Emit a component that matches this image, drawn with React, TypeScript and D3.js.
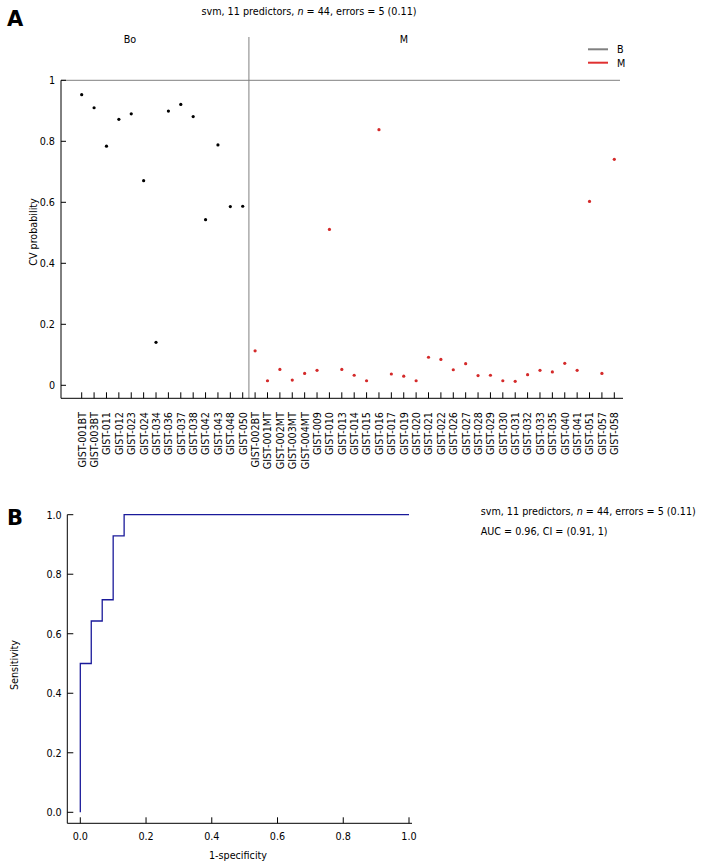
import React from "react";
import * as d3 from "d3";

const groupB = ["GIST-001BT","GIST-003BT","GIST-011","GIST-012","GIST-023","GIST-024","GIST-034","GIST-036","GIST-037","GIST-038","GIST-042","GIST-043","GIST-048","GIST-050"];
const valuesB = [0.953,0.910,0.784,0.872,0.890,0.671,0.141,0.899,0.921,0.881,0.543,0.788,0.586,0.587];
const groupM = ["GIST-002BT","GIST-001MT","GIST-002MT","GIST-003MT","GIST-004MT","GIST-009","GIST-010","GIST-013","GIST-014","GIST-015","GIST-016","GIST-017","GIST-019","GIST-020","GIST-021","GIST-022","GIST-026","GIST-027","GIST-028","GIST-029","GIST-030","GIST-031","GIST-032","GIST-033","GIST-035","GIST-040","GIST-041","GIST-051","GIST-057","GIST-058"];
const valuesM = [0.113,0.015,0.052,0.017,0.039,0.049,0.511,0.052,0.033,0.015,0.838,0.037,0.030,0.015,0.092,0.085,0.051,0.071,0.032,0.033,0.015,0.013,0.035,0.049,0.044,0.072,0.049,0.603,0.039,0.741];
const yTicksA = [0, 0.2, 0.4, 0.6, 0.8, 1];
const yTickLabelsA = ["0", "0.2", "0.4", "0.6", "0.8", "1"];

const rocFpr = [0, 0, 1/30, 1/30, 2/30, 2/30, 3/30, 3/30, 4/30, 4/30, 1];
const rocTpr = [0, 7/14, 7/14, 9/14, 9/14, 10/14, 10/14, 13/14, 13/14, 1, 1];
const ticksB = [0, 0.2, 0.4, 0.6, 0.8, 1.0];

const titleText = "svm, 11 predictors, ";
const FONT = "'DejaVu Sans Condensed', 'DejaVu Sans', sans-serif";
const FS = 10.7;

export default function App() {
  const cats = [...groupB, ...groupM];
  const vals = [...valuesB, ...valuesM];
  const nB = groupB.length;

  // Panel A scales
  const xA = d3.scaleLinear().domain([0, cats.length - 1]).range([81.7, 614.3]);
  const yA = d3.scaleLinear().domain([0, 1]).range([385.3, 80.3]);
  const axisLeftA = 61;
  const axisBottomA = 398.3;
  const axisRightA = 623;
  const sepX = (xA(nB - 1) + xA(nB)) / 2;

  // Panel B scales
  const xB = d3.scaleLinear().domain([0, 1]).range([80.3, 409]);
  const yB = d3.scaleLinear().domain([0, 1]).range([812.3, 514.7]);
  const axisLeftB = 67.3;
  const axisBottomB = 823.3;
  const rocPts: [number, number][] = rocFpr.map((f, i) => [f, rocTpr[i]]);
  const rocLine = d3.line<[number, number]>().x(d => xB(d[0])).y(d => yB(d[1]));

  return (
    <svg width={702} height={867} style={{ position: "absolute", left: 0, top: 0, background: "#fff" }}
      fontFamily={FONT} fontSize={FS}>
      <rect x={0} y={0} width={702} height={867} fill="#fff" />
      {/* Panel A */}
      <text x={7} y={26} fontSize={21} fontWeight="bold" fontFamily="'DejaVu Sans', Arial, sans-serif">A</text>
      <text x={309} y={15} textAnchor="middle">
        {titleText}<tspan fontStyle="italic">n</tspan>{" = 44, errors = 5 (0.11)"}
      </text>
      <text x={130} y={43} textAnchor="middle">Bo</text>
      <text x={404} y={43} textAnchor="middle">M</text>
      {/* legend */}
      <line x1={588} x2={608} y1={49.3} y2={49.3} stroke="#808080" strokeWidth={2} />
      <text x={617} y={53}>B</text>
      <line x1={588} x2={608} y1={62.7} y2={62.7} stroke="#e03030" strokeWidth={2} />
      <text x={617} y={67}>M</text>
      {/* separator & ref line */}
      <line x1={sepX} x2={sepX} y1={37} y2={axisBottomA} stroke="#808080" strokeWidth={1} />
      <line x1={axisLeftA} x2={620} y1={yA(1)} y2={yA(1)} stroke="#808080" strokeWidth={1} />
      {/* axes */}
      <line x1={axisLeftA} x2={axisLeftA} y1={yA(1)} y2={axisBottomA} stroke="#000" />
      <line x1={axisLeftA} x2={axisRightA} y1={axisBottomA} y2={axisBottomA} stroke="#000" />
      {yTicksA.map((t, i) => (
        <g key={"ya" + i}>
          <line x1={axisLeftA} x2={axisLeftA + 5} y1={yA(t)} y2={yA(t)} stroke="#000" />
          <text x={55} y={yA(t) + 3.8} textAnchor="end">{yTickLabelsA[i]}</text>
        </g>
      ))}
      <text transform={`translate(37,232) rotate(-90)`} textAnchor="middle">CV probability</text>
      {cats.map((c, i) => (
        <g key={"xa" + i}>
          <line x1={xA(i)} x2={xA(i)} y1={axisBottomA} y2={axisBottomA - 6} stroke="#000" />
          <text transform={`translate(${xA(i) + 3.9},412) rotate(-90)`} textAnchor="end">{c}</text>
        </g>
      ))}
      {vals.map((v, i) => (
        <circle key={"pt" + i} cx={xA(i)} cy={yA(v)} r={1.6} fill={i < nB ? "#000" : "#d42a2a"} />
      ))}

      {/* Panel B */}
      <text x={7} y={525} fontSize={21} fontWeight="bold" fontFamily="'DejaVu Sans', Arial, sans-serif">B</text>
      <line x1={axisLeftB} x2={axisLeftB} y1={yB(1)} y2={axisBottomB} stroke="#000" />
      <line x1={axisLeftB} x2={412} y1={axisBottomB} y2={axisBottomB} stroke="#000" />
      {ticksB.map((t, i) => (
        <g key={"yb" + i}>
          <line x1={axisLeftB} x2={axisLeftB + 6} y1={yB(t)} y2={yB(t)} stroke="#000" />
          <text x={61.7} y={yB(t) + 3.8} textAnchor="end">{t.toFixed(1)}</text>
        </g>
      ))}
      {ticksB.map((t, i) => (
        <g key={"xb" + i}>
          <line x1={xB(t)} x2={xB(t)} y1={axisBottomB} y2={axisBottomB - 6} stroke="#000" />
          <text x={xB(t)} y={840} textAnchor="middle">{t.toFixed(1)}</text>
        </g>
      ))}
      <text x={238} y={859} textAnchor="middle">1-specificity</text>
      <text transform={`translate(18,665) rotate(-90)`} textAnchor="middle">Sensitivity</text>
      <path d={rocLine(rocPts) || ""} fill="none" stroke="#1a1a9a" strokeWidth={1.3} />
      <text x={480.7} y={515}>
        {titleText}<tspan fontStyle="italic">n</tspan>{" = 44, errors = 5 (0.11)"}
      </text>
      <text x={480.7} y={535}>AUC = 0.96, CI = (0.91, 1)</text>
    </svg>
  );
}
